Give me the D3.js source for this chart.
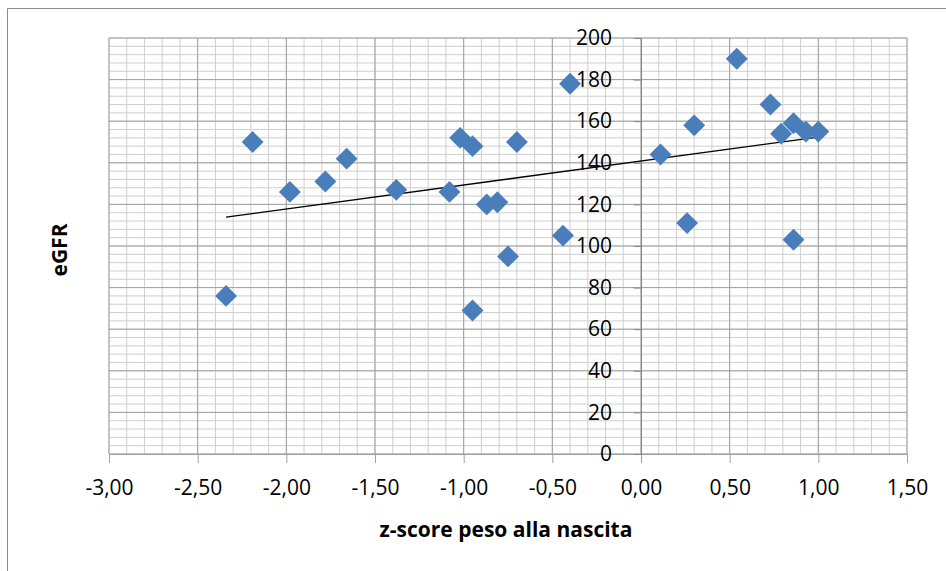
<!DOCTYPE html>
<html>
<head>
<meta charset="utf-8">
<script src="https://cdn.jsdelivr.net/npm/d3@7"></script>
<style>
  body { margin: 0; background: #fff; }
  text { font-family: "Open Sans", "Liberation Sans", sans-serif; fill: #000; }
</style>
</head>
<body>
<svg id="chart" width="946" height="571"></svg>
<script>
// z-score peso alla nascita
var zScore = [-2.34, -2.19, -1.98, -1.78, -1.66, -1.38, -1.08, -1.02, -0.95, -0.95,
              -0.87, -0.81, -0.75, -0.70, -0.44, -0.40, 0.11, 0.26, 0.30, 0.54,
              0.73, 0.79, 0.86, 0.86, 0.93, 1.00];
// eGFR
var egfr = [76, 150, 126, 131, 142, 127, 126, 152, 148, 69,
            120, 121, 95, 150, 105, 178, 144, 111, 158, 190,
            168, 154, 159, 103, 155, 155];

var xTicks = [-3, -2.5, -2, -1.5, -1, -0.5, 0, 0.5, 1, 1.5];
var yTicks = [0, 20, 40, 60, 80, 100, 120, 140, 160, 180, 200];

var margin = {top: 38, right: 39, bottom: 117, left: 109},
    width = 946 - margin.left - margin.right,
    height = 571 - margin.top - margin.bottom;

var svg = d3.select("#chart");

// chart area border (left and top only visible)
svg.append("path")
    .attr("d", "M7.5,571 V8.5 H946")
    .attr("fill", "none")
    .attr("stroke", "#8c8c8c")
    .attr("stroke-width", 1);

var x = d3.scaleLinear().domain([-3, 1.5]).range([0, width]);
var y = d3.scaleLinear().domain([0, 200]).range([height, 0]);

var g = svg.append("g")
    .attr("transform", "translate(" + margin.left + "," + margin.top + ")");

// minor grid
var xMinor = d3.range(-30, 16).map(function (d) { return d / 10; });
var yMinor = d3.range(0, 201, 4);

g.append("g").selectAll("line")
    .data(xMinor)
    .enter().append("line")
    .attr("x1", function (d) { return x(d); })
    .attr("x2", function (d) { return x(d); })
    .attr("y1", 0)
    .attr("y2", height)
    .attr("stroke", "#cfcfcf");

g.append("g").selectAll("line")
    .data(yMinor)
    .enter().append("line")
    .attr("x1", 0)
    .attr("x2", width)
    .attr("y1", function (d) { return y(d); })
    .attr("y2", function (d) { return y(d); })
    .attr("stroke", "#cfcfcf");

// major grid
g.append("g").selectAll("line")
    .data(xTicks)
    .enter().append("line")
    .attr("x1", function (d) { return x(d); })
    .attr("x2", function (d) { return x(d); })
    .attr("y1", 0)
    .attr("y2", height)
    .attr("stroke", "#a0a0a0");

g.append("g").selectAll("line")
    .data(yTicks)
    .enter().append("line")
    .attr("x1", 0)
    .attr("x2", width)
    .attr("y1", function (d) { return y(d); })
    .attr("y2", function (d) { return y(d); })
    .attr("stroke", "#a0a0a0");

var fmt = function (d) { return d3.format(".2f")(d).replace("\u2212", "-").replace(".", ","); };

// x axis along y = 0
var xAxis = g.append("g")
    .attr("transform", "translate(0," + y(0) + ")")
    .call(d3.axisBottom(x).tickValues(xTicks).tickFormat(fmt).tickSize(9).tickPadding(17));
xAxis.select(".domain").attr("stroke", "#a0a0a0");
xAxis.selectAll(".tick line").attr("stroke", "#a0a0a0");
xAxis.selectAll("text").style("font-size", "21px").attr("fill", "#000");

// y axis crossing at x = 0
var yAxis = g.append("g")
    .attr("transform", "translate(" + x(0) + ",0)")
    .call(d3.axisLeft(y).tickValues(yTicks).tickSize(7).tickPadding(22));
yAxis.select(".domain").attr("stroke", "#868686");
yAxis.selectAll(".tick line").attr("stroke", "#868686");
yAxis.selectAll("text").style("font-size", "21px").attr("fill", "#000");

// linear trendline (least squares)
var mx = d3.mean(zScore), my = d3.mean(egfr);
var sxy = d3.sum(zScore, function (d, i) { return (d - mx) * (egfr[i] - my); });
var sxx = d3.sum(zScore, function (d) { return (d - mx) * (d - mx); });
var slope = sxy / sxx, icpt = my - slope * mx;
var ext = d3.extent(zScore);

g.append("line")
    .attr("x1", x(ext[0]))
    .attr("y1", y(icpt + slope * ext[0]))
    .attr("x2", x(ext[1]))
    .attr("y2", y(icpt + slope * ext[1]))
    .attr("stroke", "#000")
    .attr("stroke-width", 1.3);

// points
g.append("g").selectAll("path")
    .data(zScore)
    .enter().append("path")
    .attr("d", d3.symbol().type(d3.symbolSquare).size(240))
    .attr("transform", function (d, i) {
        return "translate(" + x(d) + "," + y(egfr[i]) + ") rotate(45)";
    })
    .attr("fill", "#4a7ebb");

// axis titles
svg.append("text")
    .attr("x", 506)
    .attr("y", 537)
    .attr("text-anchor", "middle")
    .style("font-size", "21px")
    .style("font-weight", "bold")
    .text("z-score peso alla nascita");

svg.append("text")
    .attr("transform", "translate(67,250) rotate(-90)")
    .attr("text-anchor", "middle")
    .style("font-size", "21px")
    .style("font-weight", "bold")
    .text("eGFR");
</script>
</body>
</html>
